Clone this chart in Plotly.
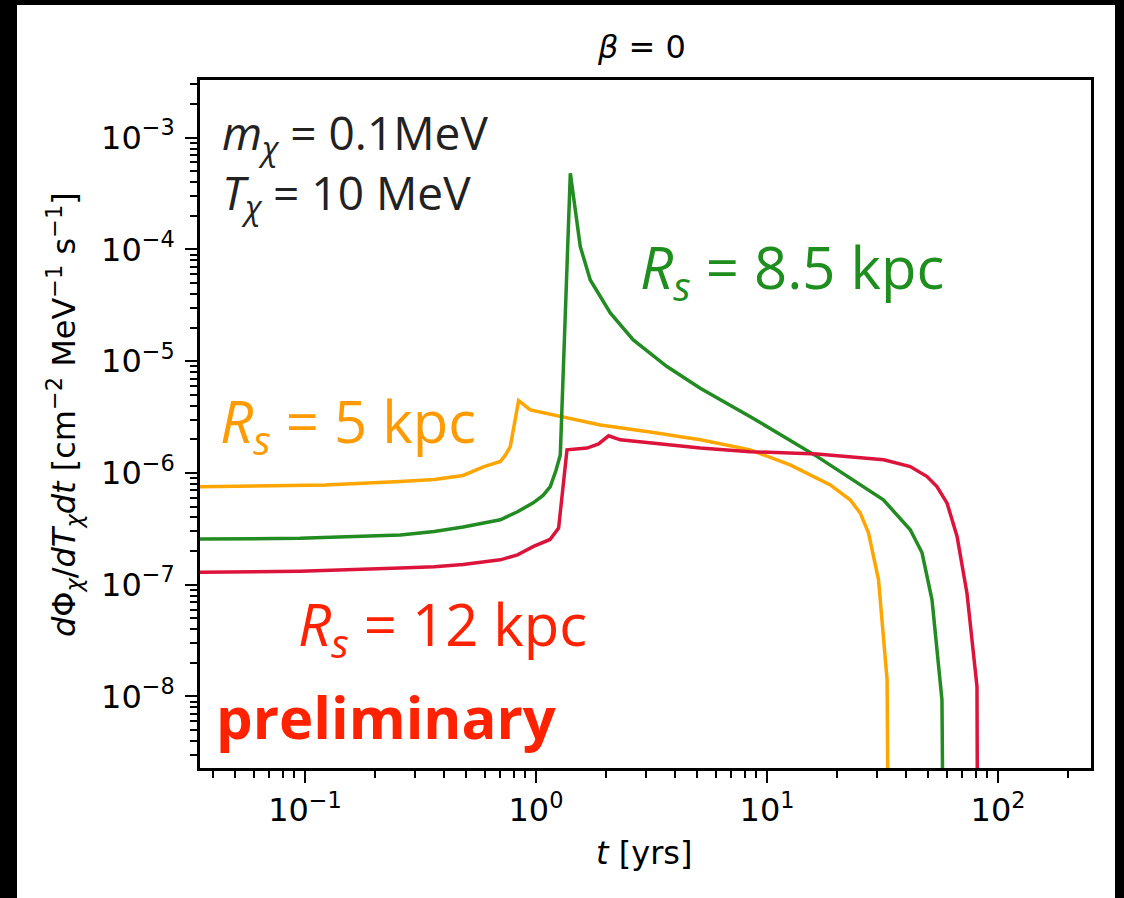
import plotly.graph_objects as go

# Time after the supernova [yrs] and boosted-DM flux [cm^-2 MeV^-1 s^-1]
t_5kpc = [0.035, 0.0654, 0.1222, 0.2586, 0.3628, 0.4835, 0.5956, 0.701, 0.7382, 0.774,
          0.841, 0.945, 1.899, 3.12, 5.14, 8.47, 12.6, 18.8, 22.9, 25.3, 27.5, 30.4,
          33.1, 34.2]
flux_5kpc = [7.51e-7, 7.6e-7, 7.8e-7, 8.38e-7, 8.75e-7, 9.5e-7, 1.14e-6, 1.265e-6,
             1.45e-6, 1.722e-6, 4.44e-6, 3.67e-6, 2.69e-6, 2.33e-6, 1.98e-6, 1.61e-6,
             1.18e-6, 7.82e-7, 5.75e-7, 4.39e-7, 2.91e-7, 1.106e-7, 1.41e-8, 1e-12]

t_8p5kpc = [0.035, 0.0953, 0.2586, 0.3628, 0.4835, 0.701, 0.8316, 0.973, 1.073, 1.153,
            1.22, 1.274, 1.408, 1.555, 1.718, 2.097, 2.637, 3.69, 5.14, 8.47, 16.5, 31.9,
            41.7, 46.9, 51.8, 57.2, 59.2]
flux_8p5kpc = [2.56e-7, 2.6e-7, 2.79e-7, 2.99e-7, 3.29e-7, 3.81e-7, 4.5e-7, 5.40e-7,
               6.3e-7, 7.55e-7, 1.05e-6, 1.45e-6, 4.80e-4, 1.06e-4, 5.33e-5, 2.70e-5,
               1.55e-5, 8.95e-6, 5.73e-6, 3.19e-6, 1.40e-6, 5.75e-7, 3.10e-7, 1.93e-7,
               7.33e-8, 9.34e-9, 1e-12]

t_12kpc = [0.035, 0.0953, 0.2586, 0.3628, 0.4835, 0.701, 0.8316, 0.976, 1.15, 1.253,
           1.362, 1.663, 1.866, 2.062, 2.317, 5.14, 8.47, 16.5, 32.0, 41.7, 49.3, 54.4,
           60.2, 66.5, 73.4, 81.1, 82.4]
flux_12kpc = [1.29e-7, 1.32e-7, 1.41e-7, 1.45e-7, 1.52e-7, 1.67e-7, 1.85e-7, 2.20e-7,
              2.54e-7, 3.21e-7, 1.61e-6, 1.67e-6, 1.82e-6, 2.15e-6, 1.98e-6, 1.67e-6,
              1.55e-6, 1.48e-6, 1.31e-6, 1.14e-6, 9.29e-7, 7.55e-7, 5.37e-7, 2.70e-7,
              8.41e-8, 1.23e-8, 1e-12]

x_tickvals = [0.1, 1, 10, 100]
x_ticktext = ["10<sup>−1</sup>", "10<sup>0</sup>", "10<sup>1</sup>", "10<sup>2</sup>"]
y_tickvals = [1e-8, 1e-7, 1e-6, 1e-5, 1e-4, 1e-3]
y_ticktext = ["10<sup>−8</sup>", "10<sup>−7</sup>", "10<sup>−6</sup>",
              "10<sup>−5</sup>", "10<sup>−4</sup>", "10<sup>−3</sup>"]

AX_FONT = "DejaVu Sans"
AX_SIZE = 32
LBL_FONT = "Open Sans"

fig = go.Figure()
fig.add_trace(go.Scatter(x=t_5kpc, y=flux_5kpc, mode="lines",
                         line=dict(color="#FFA500", width=3.5), name="5 kpc"))
fig.add_trace(go.Scatter(x=t_8p5kpc, y=flux_8p5kpc, mode="lines",
                         line=dict(color="#228B22", width=3.5), name="8.5 kpc"))
fig.add_trace(go.Scatter(x=t_12kpc, y=flux_12kpc, mode="lines",
                         line=dict(color="#DC143C", width=3.5), name="12 kpc"))

axis_common = dict(
    type="log", showgrid=False, zeroline=False, showline=True, linecolor="black",
    linewidth=2.5, mirror=True, ticks="outside", ticklen=12, tickwidth=2,
    tickcolor="black", tickfont=dict(family=AX_FONT, size=AX_SIZE, color="black"),
    minor=dict(ticks="outside", ticklen=7, tickwidth=1.5, tickcolor="black",
               dtick="D1", showgrid=False),
)

fig.update_xaxes(range=[-1.4545, 2.4026], tickvals=x_tickvals, ticktext=x_ticktext,
                 **axis_common)
fig.update_yaxes(range=[-8.640, -2.484], tickvals=y_tickvals, ticktext=y_ticktext,
                 ticklabelstandoff=4, **axis_common)

def px_x(px):
    return (px - 200) / 891

def px_y(py):
    return (768 - py) / 688

ax_font = dict(family=AX_FONT, size=AX_SIZE, color="black")
annotations = [
    dict(text="<i>β</i> = 0", x=px_x(641), y=px_y(47), font=ax_font,
         xanchor="center", yanchor="middle"),
    dict(text="<i>t</i> [yrs]", x=px_x(644), y=px_y(853), font=ax_font,
         xanchor="center", yanchor="middle"),
    dict(text="<i>d</i>Φ<sub><i>χ</i></sub>/<i>dT</i><sub><i>χ</i></sub><i>dt</i> "
              "[cm<sup>−2</sup> MeV<sup>−1</sup> s<sup>−1</sup>]",
         x=px_x(64), y=px_y(415), textangle=-90, font=ax_font,
         xanchor="center", yanchor="middle"),
    dict(text="<i>m</i><sub><i>χ</i></sub> = 0.1MeV<br>"
              "<i>T</i><sub><i>χ</i></sub> = 10 MeV",
         x=px_x(220), y=px_y(164), align="left",
         font=dict(family=LBL_FONT, size=46, color="#222222"), xanchor="left", yanchor="middle"),
    dict(text="<i>R</i><sub><i>s</i></sub> = 8.5 kpc", x=px_x(638), y=px_y(270),
         font=dict(family=LBL_FONT, size=58, color="#1E8E1E"), xanchor="left", yanchor="middle"),
    dict(text="<i>R</i><sub><i>s</i></sub> = 5 kpc", x=px_x(218), y=px_y(424),
         font=dict(family=LBL_FONT, size=58, color="#FF9A00"), xanchor="left", yanchor="middle"),
    dict(text="<i>R</i><sub><i>s</i></sub> = 12 kpc", x=px_x(296), y=px_y(627),
         font=dict(family=LBL_FONT, size=58, color="#FF2200"), xanchor="left", yanchor="middle"),
    dict(text="<b>preliminary</b>", x=px_x(214), y=px_y(716),
         font=dict(family=LBL_FONT, size=58, color="#FF2200", weight=800),
         xanchor="left", yanchor="middle"),
]
for a in annotations:
    a.update(xref="paper", yref="paper", showarrow=False)

# Dark frame around the canvas
shapes = [
    dict(type="rect", xref="paper", yref="paper", x0=px_x(0), x1=px_x(17),
         y0=px_y(898), y1=px_y(0), fillcolor="black", line=dict(width=0)),
    dict(type="rect", xref="paper", yref="paper", x0=px_x(0), x1=px_x(1124),
         y0=px_y(5), y1=px_y(0), fillcolor="black", line=dict(width=0)),
    dict(type="rect", xref="paper", yref="paper", x0=px_x(1115), x1=px_x(1124),
         y0=px_y(898), y1=px_y(0), fillcolor="black", line=dict(width=0)),
]

fig.update_layout(
    width=1124, height=898,
    margin=dict(l=200, r=33, t=80, b=130),
    paper_bgcolor="white", plot_bgcolor="white",
    showlegend=False,
    annotations=annotations,
    shapes=shapes,
)

fig.write_html("out.html")
